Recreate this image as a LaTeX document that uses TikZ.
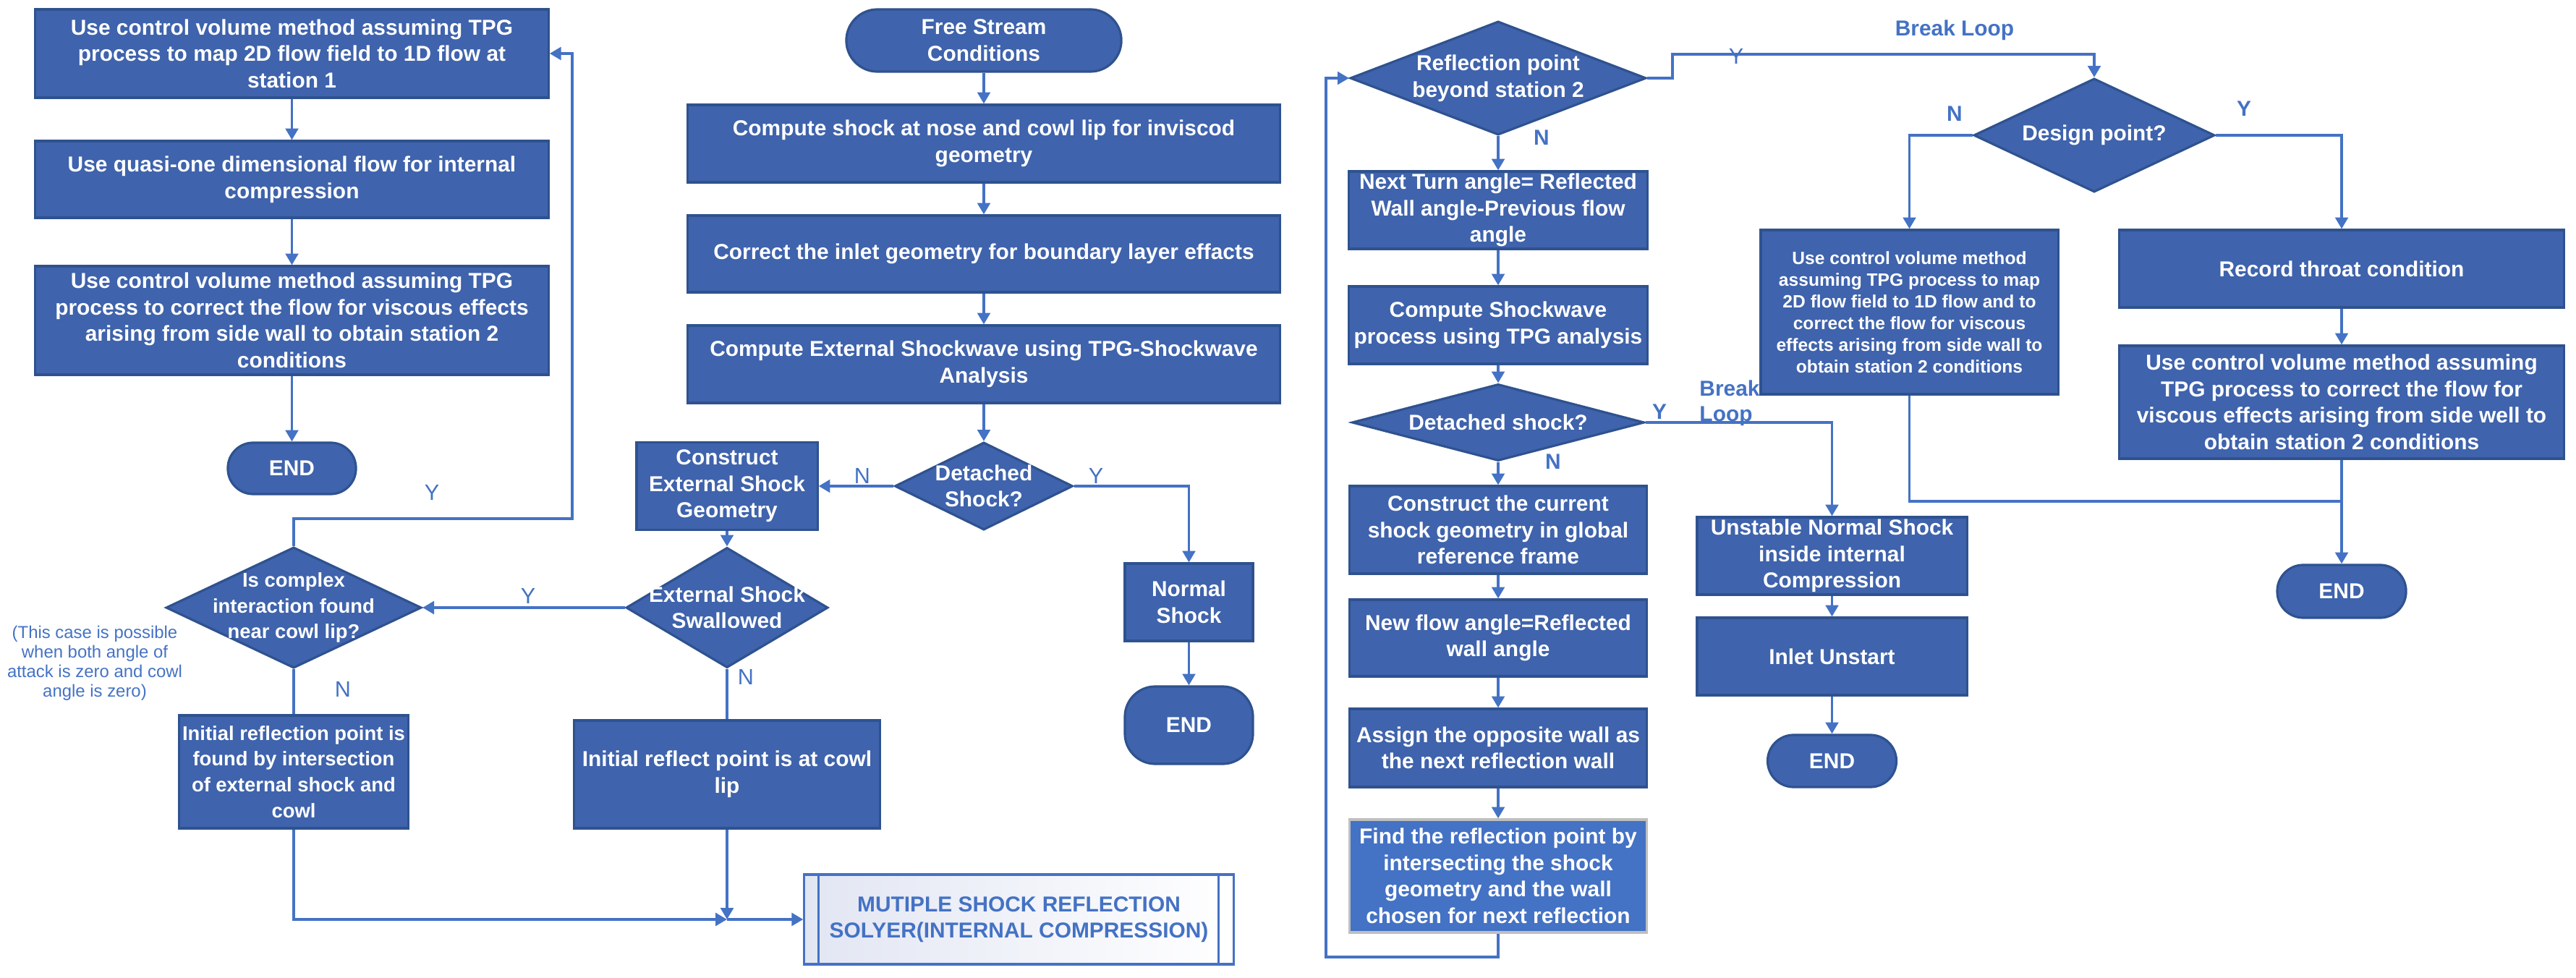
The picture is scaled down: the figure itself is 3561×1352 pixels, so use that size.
\documentclass[tikz,border=0pt]{standalone}
\usepackage{fontspec}
\setmainfont{Liberation Sans}
\usetikzlibrary{shapes.geometric,arrows.meta}
\definecolor{boxfill}{HTML}{3F63AC}
\definecolor{boxedge}{HTML}{2F528F}
\definecolor{linec}{HTML}{4472C4}
\definecolor{lightfill}{HTML}{4472C4}
\definecolor{subl}{HTML}{E2E6F3}
\tikzset{
 proc/.style={rectangle, draw=boxedge, line width=0.9pt, fill=boxfill, text=white,
   font=\fontsize{8.5}{10.4}\selectfont\bfseries, align=center, inner sep=0pt},
 procs/.style={proc, font=\fontsize{7.8}{10.2}\selectfont\bfseries},
 procg/.style={proc, font=\fontsize{7}{8.5}\selectfont\bfseries},
 procl/.style={proc, fill=lightfill, draw=black!25},
 term/.style={proc, rounded corners=0.35cm},
 dia/.style={diamond, draw=boxedge, line width=0.9pt, fill=boxfill, inner sep=0pt},
 diatext/.style={text=white, font=\fontsize{8.5}{10.4}\selectfont\bfseries, align=center, inner sep=0pt},
 diatexts/.style={diatext, font=\fontsize{7.8}{10.2}\selectfont\bfseries},
 subp/.style={rectangle, draw=linec, line width=0.9pt, left color=subl, right color=white,
   text=linec, font=\fontsize{8.5}{10.4}\selectfont\bfseries, align=center, inner sep=0pt},
 lbl/.style={text=linec, font=\fontsize{8.7}{10}\selectfont, inner sep=1pt},
 lblb/.style={text=linec, font=\fontsize{8.5}{10}\selectfont\bfseries, inner sep=1pt},
 note/.style={text=linec, font=\fontsize{6.8}{7.7}\selectfont, align=center, inner sep=0pt},
 conn/.style={draw=linec, line width=1pt},
 arr/.style={conn, -{Triangle[length=4.5pt,width=5pt]}},
}
\begin{document}
\begin{tikzpicture}[x=0.01cm,y=-0.01cm]
\useasboundingbox (0,0) rectangle (3561,1352);

% ---------- left column
\node[proc, minimum width=7.09cm, minimum height=1.22cm] (a1) at (403.5,74) {Use control volume method assuming TPG\\process to map 2D flow field to 1D flow at\\station 1};
\node[proc, minimum width=7.09cm, minimum height=1.06cm] (a2) at (403.5,248) {Use quasi-one dimensional flow for internal\\compression};
\node[proc, minimum width=7.09cm, minimum height=1.50cm] (a3) at (403.5,443) {Use control volume method assuming TPG\\process to correct the flow for viscous effects\\arising from side wall to obtain station 2\\conditions};
\node[term, minimum width=1.77cm, minimum height=0.71cm] (end1) at (403.5,647.5) {END};

\node[dia, minimum width=3.53cm, minimum height=1.67cm] (d1) at (406,840) {};
\node[diatexts] (d1t) at (d1.center) {Is complex\\interaction found\\near cowl lip?};
\node[procs, minimum width=3.16cm, minimum height=1.56cm] (b1) at (406,1067) {Initial reflection point is\\found by intersection\\of external shock and\\cowl};
\node[note] (note) at (131,917) {(This case is possible\\when both angle of\\attack is zero and cowl\\angle is zero)};

% ---------- middle column
\node[term, minimum width=3.80cm, minimum height=0.86cm, rounded corners=0.43cm] (fs) at (1360,56) {Free Stream\\Conditions};
\node[proc, minimum width=8.19cm, minimum height=1.07cm] (c1) at (1360,198.5) {Compute shock at nose and cowl lip for inviscod\\geometry};
\node[proc, minimum width=8.19cm, minimum height=1.06cm] (c2) at (1360,351) {Correct the inlet geometry for boundary layer effacts};
\node[proc, minimum width=8.19cm, minimum height=1.07cm] (c3) at (1360,503.5) {Compute External Shockwave using TPG-Shockwave\\Analysis};
\node[dia, minimum width=2.46cm, minimum height=1.21cm] (d2) at (1360,672) {};
\node[diatext] (d2t) at (d2.center) {Detached\\Shock?};
\node[proc, minimum width=2.50cm, minimum height=1.21cm] (e1) at (1005,672) {Construct\\External Shock\\Geometry};
\node[dia, minimum width=2.79cm, minimum height=1.66cm] (d3) at (1005,840) {};
\node[diatext] (d3t) at (d3.center) {External Shock\\Swallowed};
\node[proc, minimum width=4.22cm, minimum height=1.49cm] (b2) at (1005,1070.5) {Initial reflect point is at cowl\\lip};
\node[proc, minimum width=1.77cm, minimum height=1.07cm] (n1) at (1643.5,832.5) {Normal\\Shock};
\node[term, minimum width=1.77cm, minimum height=1.07cm, rounded corners=0.42cm] (end2) at (1643.5,1002.5) {END};
\node[subp, minimum width=5.93cm, minimum height=1.24cm] (p) at (1408.5,1271) {MUTIPLE SHOCK REFLECTION\\SOLYER(INTERNAL COMPRESSION)};
\draw[draw=linec, line width=0.9pt] ([xshift=0.21cm]p.north west) -- ([xshift=0.21cm]p.south west);
\draw[draw=linec, line width=0.9pt] ([xshift=-0.22cm]p.north east) -- ([xshift=-0.22cm]p.south east);
\coordinate (m) at (1005,1271);

% ---------- reflection loop column
\node[dia, minimum width=4.09cm, minimum height=1.57cm] (d4) at (2071,108) {};
\node[diatext] (d4t) at (d4.center) {Reflection point\\beyond station 2};
\node[proc, minimum width=4.12cm, minimum height=1.07cm] (f1) at (2071,290.5) {Next Turn angle= Reflected\\Wall angle-Previous flow\\angle};
\node[proc, minimum width=4.12cm, minimum height=1.07cm] (f2) at (2071,449.5) {Compute Shockwave\\process using TPG analysis};
\node[dia, minimum width=4.04cm, minimum height=1.06cm] (d5) at (2071,584) {};
\node[diatext] (d5t) at (d5.center) {Detached shock?};
\node[proc, minimum width=4.10cm, minimum height=1.21cm] (f3) at (2071,732.5) {Construct the current\\shock geometry in global\\reference frame};
\node[proc, minimum width=4.10cm, minimum height=1.06cm] (f4) at (2071,882) {New flow angle=Reflected\\wall angle};
\node[proc, minimum width=4.10cm, minimum height=1.08cm] (f5) at (2071,1034) {Assign the opposite wall as\\the next reflection wall};
\node[procl, minimum width=4.10cm, minimum height=1.56cm] (f6) at (2071,1211) {Find the reflection point by\\intersecting the shock\\geometry and the wall\\chosen for next reflection};

\node[proc, minimum width=3.73cm, minimum height=1.07cm] (u1) at (2532.5,768.5) {Unstable Normal Shock\\inside internal\\Compression};
\node[proc, minimum width=3.73cm, minimum height=1.07cm] (u2) at (2532.5,907.5) {Inlet Unstart};
\node[term, minimum width=1.78cm, minimum height=0.72cm, rounded corners=0.36cm] (end4) at (2532.5,1052) {END};

% ---------- right part
\node[dia, minimum width=3.33cm, minimum height=1.57cm] (dp) at (2895,187) {};
\node[diatext] (dpt) at (dp.center) {Design point?};
\node[procg, minimum width=4.11cm, minimum height=2.27cm] (g1) at (2639.5,431.5) {Use control volume method\\assuming TPG process to map\\2D flow field to 1D flow and to\\correct the flow for viscous\\effects arising from side wall to\\obtain station 2 conditions};
\node[proc, minimum width=6.14cm, minimum height=1.07cm] (h1) at (3237,371.5) {Record throat condition};
\node[proc, minimum width=6.14cm, minimum height=1.56cm] (h2) at (3237,556) {Use control volume method assuming\\TPG process to correct the flow for\\viscous effects arising from side well to\\obtain station 2 conditions};
\node[term, minimum width=1.78cm, minimum height=0.73cm, rounded corners=0.36cm] (end3) at (3237,817.5) {END};

% ---------- connectors
\coordinate (ya) at (791,717);
\coordinate (lp) at (1833,1323);
\coordinate (yb) at (2312,75);
\coordinate (jn) at (3237,693);

\draw[arr] (a1) -- (a2);
\draw[arr] (a2) -- (a3);
\draw[arr] (a3) -- (end1);
\draw[arr] (d1.north) |- (ya) |- (a1.east);
\draw[conn] (d1.south) -- (b1.north);
\draw[arr] (b1.south) |- (m);
\draw[arr] (b2.south) -- (m);
\draw[arr] (m) -- (p.west);

\draw[arr] (fs) -- (c1);
\draw[arr] (c1) -- (c2);
\draw[arr] (c2) -- (c3);
\draw[arr] (c3) -- (d2.north);
\draw[arr] (d2.west) -- (e1.east);
\draw[arr] (d2.east) -| (n1.north);
\draw[arr] (n1) -- (end2);
\draw[arr] (e1) -- (d3.north);
\draw[arr] (d3.west) -- (d1.east);
\draw[conn] (d3.south) -- (b2.north);

\draw[arr] (d4.south) -- (f1);
\draw[arr] (f1) -- (f2);
\draw[arr] (f2) -- (d5.north);
\draw[arr] (d5.south) -- (f3);
\draw[arr] (f3) -- (f4);
\draw[arr] (f4) -- (f5);
\draw[arr] (f5) -- (f6);
\draw[arr] (f6.south) |- (lp) |- (d4.west);
\draw[arr] (d4.east) -| (yb) -| (dp.north);
\draw[arr] (d5.east) -| (u1.north);
\draw[arr] (u1) -- (u2);
\draw[arr] (u2) -- (end4);

\draw[arr] (dp.west) -| (g1.north);
\draw[arr] (dp.east) -| (h1.north);
\draw[arr] (h1) -- (h2);
\draw[arr] (h2) -- (end3);
\draw[conn] (g1.south) |- (jn);

% ---------- labels
\node[lbl] (l1) at (597,681) {Y};
\node[lbl, fill=white] (l2) at (730,824) {Y};
\node[lbl] (l3) at (474,953) {N};
\node[lbl] (l4) at (1192,658) {N};
\node[lbl] (l5) at (1515,658) {Y};
\node[lbl] (l6) at (1031,936) {N};
\node[lblb] (l7) at (2131,190) {N};
\node[lbl] (l8) at (2400,78) {Y};
\node[lblb] (l9) at (2702,42) {Break Loop};
\node[lblb] (l10) at (2294,569) {Y};
\node[lblb, align=left] (l11) at (2391,557) {Break\\Loop};
\node[lblb] (l12) at (2147,638) {N};
\node[lblb] (l13) at (2702,157) {N};
\node[lblb] (l14) at (3102,150) {Y};
\end{tikzpicture}
\end{document}
